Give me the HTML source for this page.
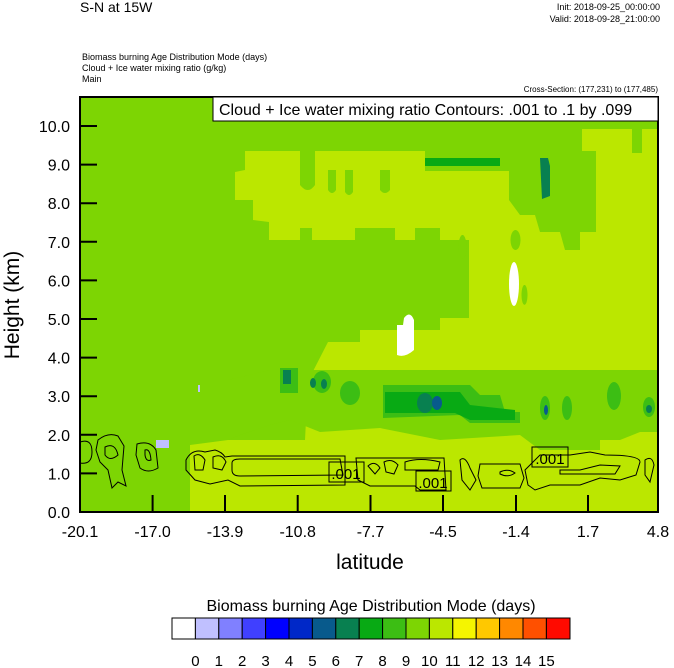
<!DOCTYPE html>
<html><head><meta charset="utf-8"><style>
body{margin:0;background:#fff;}
svg{display:block;font-family:"Liberation Sans",sans-serif;}
</style></head><body>
<svg width="674" height="668" viewBox="0 0 674 668" xmlns="http://www.w3.org/2000/svg">
<defs><clipPath id="c"><rect x="80" y="97" width="578" height="415"/></clipPath></defs>
<text x="80" y="12" font-size="14">S-N at 15W</text>
<text x="660" y="10" font-size="9" text-anchor="end">Init: 2018-09-25_00:00:00</text>
<text x="660" y="22" font-size="9" text-anchor="end">Valid: 2018-09-28_21:00:00</text>
<text x="82" y="60" font-size="9">Biomass burning Age Distribution Mode   (days)</text>
<text x="82" y="71" font-size="9">Cloud + Ice water mixing ratio   (g/kg)</text>
<text x="82" y="82" font-size="9">Main</text>
<text x="658" y="92" font-size="8" text-anchor="end">Cross-Section: (177,231) to (177,485)</text>
<g clip-path="url(#c)">
<rect x="80" y="97" width="578" height="415" fill="#bbe700"/>
<!-- dark green (9) regions -->
<path fill="#7dd503" d="M80,97 H658 V129 H582 V151 H245 L245,170 L235,172 V200 L253,200 V220 L269,222 V240 H300 V228 H312 V240 H355 V228 H395 V240 H415 V228 H440 V240 H469 V318 H440 V330 H360 V342 H328 L308,381 L305,440 L228,440 L190,445 L190,512 H80 Z"/>
<path fill="#7dd503" d="M425,151 H596 V232 H580 V250 H565 L560,232 H540 L535,215 H520 L509,200 V171 H425 Z"/>
<path fill="#7dd503" d="M300,151 H315 V185 Q308,195 300,185 Z M328,170 h8 v20 q-4,6 -8,0 Z M345,170 h8 v22 q-4,6 -8,0 Z M380,170 h10 v20 q-5,6 -10,0Z"/>
<path fill="#7dd503" d="M270,370 H658 V432 H640 L620,440 L600,440 L600,450 H540 L520,435 L440,440 L380,428 L320,432 L290,420 L270,425 L240,435 L228,440 L228,380 Z"/>
<path fill="#7dd503" d="M515,230 a5,10 0 1,0 1,0Z M524,285 a3,10 0 1,0 1,0Z M632,128 h10 v25 h-10 Z M462,235 a4,12 0 1,0 1,0Z"/>
<!-- medium greens -->
<path fill="#3cbe14" d="M383,385 H470 L480,395 H500 L505,412 H520 V423 H470 L460,415 L383,418 Z"/>
<ellipse cx="350" cy="393" rx="10" ry="12" fill="#3cbe14"/>
<ellipse cx="322" cy="382" rx="9" ry="11" fill="#3cbe14"/>
<ellipse cx="545" cy="408" rx="5" ry="12" fill="#3cbe14"/>
<ellipse cx="567" cy="408" rx="5" ry="12" fill="#3cbe14"/>
<ellipse cx="614" cy="396" rx="7" ry="14" fill="#3cbe14"/>
<ellipse cx="649" cy="407" rx="6" ry="10" fill="#3cbe14"/>
<rect x="280" y="368" width="18" height="25" fill="#3cbe14"/>
<path fill="#08aa14" d="M385,392 H460 L470,405 L515,410 V420 H470 L455,413 L385,413 Z"/>
<rect x="283" y="370" width="8" height="14" fill="#088050"/>
<ellipse cx="425" cy="403" rx="8" ry="10" fill="#088050"/>
<ellipse cx="437" cy="403" rx="5" ry="7" fill="#085a8c"/>
<ellipse cx="313" cy="383" rx="3" ry="5" fill="#088050"/>
<ellipse cx="324" cy="384" rx="3" ry="5" fill="#088050"/>
<ellipse cx="546" cy="410" rx="2" ry="5" fill="#085a8c"/>
<ellipse cx="649" cy="409" rx="3" ry="4" fill="#088050"/>
<!-- top band greens -->
<rect x="425" y="158" width="75" height="8" fill="#08aa14"/>
<path fill="#088050" d="M540,158 h8 l2,8 v30 l-8,3 Z"/>
<rect x="156" y="440" width="13" height="8" fill="#c0c0ff"/>
<rect x="198" y="385" width="2" height="7" fill="#c0c0ff"/>
<!-- white -->
<ellipse cx="514" cy="284" rx="5" ry="22" fill="#fff"/>
<path fill="#fff" d="M397,325 H403 L404,318 Q410,310 414,320 V350 Q405,358 397,355 Z"/>
<!-- contours -->
<g fill="none" stroke="#000" stroke-width="1">
<path d="M80,442 Q92,438 92,452 Q92,465 80,463"/>
<path d="M98,440 Q108,432 118,436 L124,446 L122,470 L126,486 L118,482 L112,488 L108,470 L100,462 L96,450 Z"/>
<path d="M105,447 Q115,442 118,455 Q110,462 105,455 Z"/>
<path d="M137,444 Q150,440 156,450 L158,468 Q148,474 140,468 L136,455 Z"/>
<path d="M145,450 Q150,448 151,460 Q146,462 145,455 Z"/>
<path d="M186,460 Q192,448 205,452 L215,450 Q222,452 225,457 L232,456 L345,456 L345,485 L240,486 L228,480 L210,484 L195,480 L186,470 Z"/>
<path d="M232,463 Q232,459 240,459 L340,459 L343,475 L240,476 Q232,476 232,470 Z"/>
<path d="M194,456 Q200,452 205,460 L203,470 L195,470 Z"/>
<path d="M213,457 Q222,453 226,462 L222,470 L213,468 Z"/>
<path d="M356,458 L444,458 L446,490 L420,490 L415,486 L370,486 L358,480 Z"/>
<path d="M368,466 Q375,460 380,468 L375,474 Z M384,462 Q392,458 398,465 L394,474 L386,472 Z M405,462 Q420,457 440,462 L438,470 L405,470 Z"/>
<path d="M460,460 Q465,455 470,468 L476,480 L470,490 L462,480 Z"/>
<path d="M480,464 H520 L524,478 L520,488 H482 L478,476 Z"/>
<path d="M500,472 Q508,468 515,473 Q508,478 500,474 Z"/>
<path d="M525,470 L540,455 L570,455 L590,452 L605,455 Q640,455 640,462 L636,475 L620,480 L600,478 L580,485 H550 L535,490 L528,485 Z"/>
<path d="M560,470 H580 L600,465 L620,466 L615,474 L560,474 Z"/>
<path d="M645,460 Q652,455 654,465 L650,482 L645,475 Z"/>
</g>
</g>
<g stroke="#000" stroke-width="1">
<rect x="329" y="462" width="35" height="20" fill="none"/>
<rect x="416" y="471" width="35" height="20" fill="none"/>
<rect x="532" y="447" width="36" height="20" fill="none"/>
</g>
<g font-size="15">
<text x="346" y="479" text-anchor="middle">.001</text>
<text x="433" y="488" text-anchor="middle">.001</text>
<text x="550" y="464" text-anchor="middle">.001</text>
</g>
<rect x="80" y="97" width="578" height="415" fill="none" stroke="#000" stroke-width="2"/>
<rect x="213" y="97" width="445" height="24" fill="#fff" stroke="#000" stroke-width="1"/>
<text x="219" y="115" font-size="16">Cloud + Ice water mixing ratio Contours: .001 to .1 by .099</text>
<g stroke="#000" stroke-width="2">
<path d="M80,126.0H97M80,164.6H97M80,203.2H97M80,241.8H97M80,280.4H97M80,319H97M80,357.6H97M80,396.2H97M80,434.8H97M80,473.4H97"/>
<path d="M152.6,512V495M225,512V495M297.7,512V495M370.5,512V495M443,512V495M516,512V495M588,512V495"/>
</g>
<g font-size="16" text-anchor="end">
<text x="70" y="132">10.0</text><text x="70" y="170.6">9.0</text><text x="70" y="209.2">8.0</text>
<text x="70" y="247.8">7.0</text><text x="70" y="286.4">6.0</text><text x="70" y="325">5.0</text>
<text x="70" y="363.6">4.0</text><text x="70" y="402.2">3.0</text><text x="70" y="440.8">2.0</text>
<text x="70" y="479.4">1.0</text><text x="70" y="518">0.0</text>
</g>
<g font-size="16" text-anchor="middle">
<text x="80" y="537">-20.1</text><text x="152.6" y="537">-17.0</text><text x="225" y="537">-13.9</text>
<text x="297.7" y="537">-10.8</text><text x="370.5" y="537">-7.7</text><text x="443" y="537">-4.5</text>
<text x="516" y="537">-1.4</text><text x="588" y="537">1.7</text><text x="658" y="537">4.8</text>
</g>
<text x="370" y="569" font-size="21" text-anchor="middle">latitude</text>
<text transform="translate(19,305) rotate(-90)" font-size="21" text-anchor="middle">Height (km)</text>
<text x="371" y="611" font-size="16" text-anchor="middle">Biomass burning Age Distribution Mode  (days)</text>
<g stroke="#000" stroke-width="1">
<rect x="172" y="618" width="23.4" height="21" fill="#ffffff"/>
<rect x="195.4" y="618" width="23.4" height="21" fill="#c0c0ff"/>
<rect x="218.8" y="618" width="23.4" height="21" fill="#8080ff"/>
<rect x="242.2" y="618" width="23.4" height="21" fill="#4040ff"/>
<rect x="265.6" y="618" width="23.4" height="21" fill="#0000ff"/>
<rect x="289" y="618" width="23.4" height="21" fill="#0028c8"/>
<rect x="312.4" y="618" width="23.4" height="21" fill="#085a8c"/>
<rect x="335.8" y="618" width="23.4" height="21" fill="#088050"/>
<rect x="359.2" y="618" width="23.4" height="21" fill="#08aa14"/>
<rect x="382.6" y="618" width="23.4" height="21" fill="#3cbe14"/>
<rect x="406" y="618" width="23.4" height="21" fill="#7dd503"/>
<rect x="429.4" y="618" width="23.4" height="21" fill="#bbe700"/>
<rect x="452.8" y="618" width="23.4" height="21" fill="#f5f500"/>
<rect x="476.2" y="618" width="23.4" height="21" fill="#ffc800"/>
<rect x="499.6" y="618" width="23.4" height="21" fill="#ff8800"/>
<rect x="523" y="618" width="23.4" height="21" fill="#ff5000"/>
<rect x="546.4" y="618" width="23.6" height="21" fill="#ff0a00"/>
</g>
<g font-size="15" text-anchor="middle">
<text x="195.4" y="666">0</text><text x="218.8" y="666">1</text><text x="242.2" y="666">2</text>
<text x="265.6" y="666">3</text><text x="289" y="666">4</text><text x="312.4" y="666">5</text>
<text x="335.8" y="666">6</text><text x="359.2" y="666">7</text><text x="382.6" y="666">8</text>
<text x="406" y="666">9</text><text x="429.4" y="666">10</text><text x="452.8" y="666">11</text>
<text x="476.2" y="666">12</text><text x="499.6" y="666">13</text><text x="523" y="666">14</text>
<text x="546.4" y="666">15</text>
</g>
</svg>
</body></html>
